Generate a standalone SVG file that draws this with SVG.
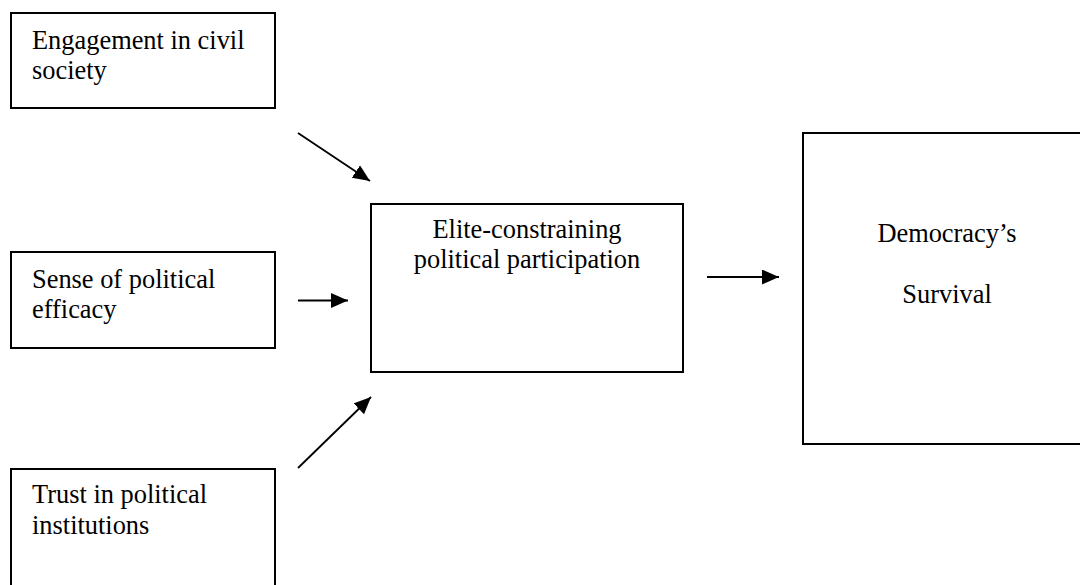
<svg xmlns="http://www.w3.org/2000/svg" width="1080" height="585" viewBox="0 0 1080 585">
<style>
.box{fill:#fff;stroke:#000;stroke-width:2}
.t{font-family:"Liberation Serif","Times New Roman",serif;font-size:26.4px;fill:#000}
.c{text-anchor:middle}
.edge{stroke:#000;stroke-width:1.8;fill:none}
</style>
<defs>
<marker id="ah" markerUnits="userSpaceOnUse" markerWidth="20" markerHeight="16" refX="17" refY="7.5" orient="auto">
<path d="M0,0 L17,7.5 L0,15 Z" fill="#000"/>
</marker>
</defs>
<rect width="1080" height="585" fill="#fff"/>
<g id="n-civil">
<rect class="box" x="11" y="13" width="264" height="95"/>
<text class="t" x="32" y="49">Engagement in civil</text>
<text class="t" x="32" y="79">society</text>
</g>
<g id="n-efficacy">
<rect class="box" x="11" y="252" width="264" height="96"/>
<text class="t" x="32" y="288">Sense of political</text>
<text class="t" x="32" y="318">efficacy</text>
</g>
<g id="n-trust">
<rect class="box" x="11" y="469" width="264" height="130"/>
<text class="t" x="32" y="503">Trust in political</text>
<text class="t" x="32" y="534">institutions</text>
</g>
<g id="n-elite">
<rect class="box" x="371" y="204" width="312" height="168"/>
<text class="t c" x="527" y="238">Elite-constraining</text>
<text class="t c" x="527" y="268">political participation</text>
</g>
<g id="n-democracy">
<rect class="box" x="803" y="133" width="300" height="311"/>
<text class="t c" x="947" y="242">Democracy’s</text>
<text class="t c" x="947" y="303">Survival</text>
</g>
<g id="connectors">
<line class="edge" x1="298" y1="133" x2="370" y2="181" marker-end="url(#ah)"/>
<line class="edge" x1="298" y1="300.5" x2="348" y2="300.5" marker-end="url(#ah)"/>
<line class="edge" x1="298" y1="468" x2="371" y2="397" marker-end="url(#ah)"/>
<line class="edge" x1="707" y1="277" x2="779" y2="277" marker-end="url(#ah)"/>
</g>
</svg>
